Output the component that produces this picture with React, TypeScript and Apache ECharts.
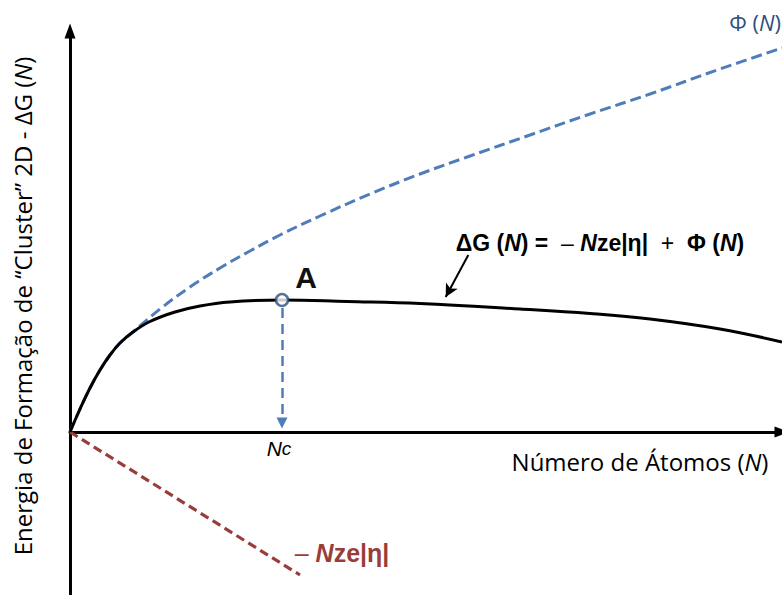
import { useEffect, useRef } from 'react';
import * as echarts from 'echarts';

// Free energy of the 2D cluster, ΔG(N) = −Nze|η| + Φ(N)
const deltaGCurve: [number, number][] = [
  [0, 0], [1, 2.3], [2, 4.4], [3, 6.2], [4, 7.7], [5, 8.9], [6.3, 10.0],
  [8, 11.05], [10.5, 12.0], [13, 12.6], [16, 13.0], [21.2, 13.2],
  [27.7, 13.05], [35, 12.85], [45, 12.3], [52, 11.85], [58, 11.3],
  [65, 10.3], [71.2, 9.0],
];

// Edge term Φ(N)
const phiCurve: [number, number][] = [
  [0, 0], [1, 2.3], [2, 4.4], [3, 6.2], [4, 7.7], [5, 8.9], [6.3, 10.0],
  [9, 12.3], [12, 14.5], [15, 16.4], [18, 18.1], [21, 19.7], [25, 21.6],
  [30, 23.8], [35, 25.8], [40, 27.6], [46, 29.7], [52, 31.8], [58, 33.8],
  [65, 36.3], [71.2, 38.4],
];

// Volume term −Nze|η|
const volumeTerm: [number, number][] = [[0, 0], [23.0, -14.3]];

// Critical point A at N = Nc
const criticalPoint: [number, number] = [21.2, 13.2];
const ncArrow: [number, number][] = [[21.2, 12.4], [21.2, 0.9]];
const formulaArrow: [number, number][] = [[39.83, 17.7], [37.57, 13.5]];

const X_RANGE: [number, number] = [0, 71.2];
const Y_RANGE: [number, number] = [-16.3, 40.1];

const BLUE = '#4f7dba';
const DARK_BLUE = '#2f4f80';
const RED = '#9a3d3a';

export default function App() {
  const ref = useRef<HTMLDivElement>(null);

  useEffect(() => {
    document.body.style.margin = '0';
    if (!ref.current) return;
    const chart = echarts.init(ref.current, undefined, { renderer: 'svg' });

    const sans = '"Open Sans", Lato, sans-serif';
    const arial = '"Liberation Sans", Arial, sans-serif';

    chart.setOption({
      animation: false,
      grid: { left: 70, right: 0, top: 31, bottom: 0, containLabel: false },
      xAxis: {
        type: 'value',
        min: X_RANGE[0],
        max: X_RANGE[1],
        axisLine: {
          show: true,
          onZero: true,
          lineStyle: { color: '#000', width: 3 },
          symbol: ['none', 'triangle'],
          symbolSize: [11, 15],
        },
        axisTick: { show: false },
        axisLabel: { show: false },
        splitLine: { show: false },
      },
      yAxis: {
        type: 'value',
        min: Y_RANGE[0],
        max: Y_RANGE[1],
        axisLine: {
          show: true,
          onZero: false,
          lineStyle: { color: '#000', width: 3 },
          symbol: ['none', 'triangle'],
          symbolSize: [11, 15],
        },
        axisTick: { show: false },
        axisLabel: { show: false },
        splitLine: { show: false },
      },
      series: [
        {
          type: 'line',
          name: 'Φ (N)',
          data: phiCurve,
          smooth: 0.4,
          showSymbol: false,
          lineStyle: { color: BLUE, width: 3, type: [11, 5] },
          z: 2,
        },
        {
          type: 'line',
          name: '−Nze|η|',
          data: volumeTerm,
          showSymbol: false,
          lineStyle: { color: RED, width: 3.2, type: [9, 5] },
          z: 2,
        },
        {
          type: 'line',
          name: 'ΔG (N)',
          data: deltaGCurve,
          smooth: 0.4,
          showSymbol: false,
          lineStyle: { color: '#000', width: 3 },
          z: 3,
        },
        {
          type: 'scatter',
          data: [criticalPoint],
          symbol: 'circle',
          symbolSize: 12,
          itemStyle: { color: '#fff', borderColor: DARK_BLUE, borderWidth: 2.5 },
          z: 5,
          markLine: {
            silent: true,
            label: { show: false },
            data: [
              [
                {
                  coord: ncArrow[0],
                  symbol: 'none',
                  lineStyle: { color: BLUE, width: 2.5, type: [10, 6] },
                },
                { coord: ncArrow[1], symbol: 'triangle', symbolSize: [11, 11] },
              ],
              [
                {
                  coord: formulaArrow[0],
                  symbol: 'none',
                  lineStyle: { color: '#000', width: 2, type: 'solid' },
                },
                { coord: formulaArrow[1], symbol: 'arrow', symbolSize: [10, 13] },
              ],
            ],
          },
        },
      ],
      graphic: [
        {
          type: 'text',
          x: 22,
          y: 306,
          rotation: Math.PI / 2,
          style: {
            text: '{a|Energia de Formação de “Cluster” 2D - ΔG (}{i|N}{a|)}',
            align: 'center',
            verticalAlign: 'middle',
            rich: {
              a: { fontFamily: sans, fontSize: 24, fill: '#000' },
              i: { fontFamily: sans, fontSize: 24, fontStyle: 'italic', fill: '#000' },
            },
          },
        },
        {
          type: 'text',
          x: 640,
          y: 461,
          style: {
            text: '{a|Número de Átomos (}{i|N}{a|)}',
            align: 'center',
            verticalAlign: 'middle',
            rich: {
              a: { fontFamily: sans, fontSize: 24, fill: '#000' },
              i: { fontFamily: sans, fontSize: 24, fontStyle: 'italic', fill: '#000' },
            },
          },
        },
        {
          type: 'text',
          x: 600,
          y: 243,
          style: {
            text: '{b|ΔG (}{bi|N}{b|) = }{r| – }{bi|N}{b|ze|η|}{r|  +  }{b|Φ (}{bi|N}{b|)}',
            align: 'center',
            verticalAlign: 'middle',
            rich: {
              b: { fontFamily: arial, fontSize: 23, fontWeight: 'bold', fill: '#000' },
              bi: { fontFamily: arial, fontSize: 23, fontWeight: 'bold', fontStyle: 'italic', fill: '#000' },
              r: { fontFamily: arial, fontSize: 23, fill: '#000' },
            },
          },
        },
        {
          type: 'text',
          x: 781,
          y: 22,
          style: {
            text: '{a|Φ (}{i|N}{a|)}',
            align: 'right',
            verticalAlign: 'middle',
            rich: {
              a: { fontFamily: sans, fontSize: 22, fill: DARK_BLUE },
              i: { fontFamily: sans, fontSize: 22, fontStyle: 'italic', fill: DARK_BLUE },
            },
          },
        },
        {
          type: 'text',
          x: 306,
          y: 277,
          style: {
            text: 'A',
            align: 'center',
            verticalAlign: 'middle',
            fontFamily: arial,
            fontSize: 30,
            fontWeight: 'bold',
            fill: '#111',
          },
        },
        {
          type: 'text',
          x: 279,
          y: 448,
          style: {
            text: '{n|N}{c|c}',
            align: 'center',
            verticalAlign: 'middle',
            rich: {
              n: { fontFamily: arial, fontSize: 21, fontStyle: 'italic', fill: '#000' },
              c: { fontFamily: arial, fontSize: 19, fontStyle: 'italic', fill: '#000' },
            },
          },
        },
        {
          type: 'text',
          x: 342,
          y: 553,
          style: {
            text: '{r|– }{bi|N}{b|ze|η|}',
            align: 'center',
            verticalAlign: 'middle',
            rich: {
              r: { fontFamily: arial, fontSize: 25, fill: RED },
              bi: { fontFamily: arial, fontSize: 25, fontWeight: 'bold', fontStyle: 'italic', fill: RED },
              b: { fontFamily: arial, fontSize: 25, fontWeight: 'bold', fill: RED },
            },
          },
        },
      ],
    });

    return () => chart.dispose();
  }, []);

  return <div ref={ref} style={{ width: 782, height: 595 }} />;
}
